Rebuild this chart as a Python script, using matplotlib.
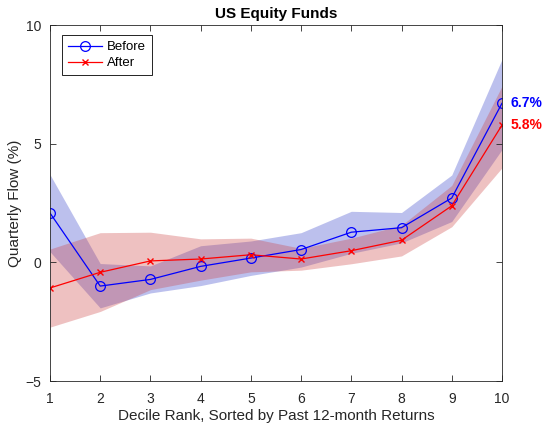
import numpy as np
import matplotlib.pyplot as plt

plt.rcParams['font.family'] = ['Liberation Sans', 'DejaVu Sans']

decile = np.arange(1, 11)

# quarterly flow (%) by decile, with confidence bands
before = [2.08, -1.0, -0.72, -0.17, 0.18, 0.54, 1.27, 1.46, 2.71, 6.7]
before_lo = [0.45, -1.92, -1.29, -0.98, -0.55, -0.2, 0.38, 0.82, 1.72, 4.75]
before_hi = [3.7, -0.05, -0.15, 0.7, 0.9, 1.25, 2.15, 2.1, 3.68, 8.55]

after = [-1.08, -0.42, 0.06, 0.14, 0.32, 0.14, 0.49, 0.93, 2.38, 5.78]
after_lo = [-2.73, -2.07, -1.15, -0.75, -0.4, -0.33, -0.06, 0.27, 1.5, 3.98]
after_hi = [0.56, 1.25, 1.27, 0.99, 1.02, 0.59, 1.02, 1.56, 3.24, 7.42]

before_label = '6.7%'
after_label = '5.8%'

fig = plt.figure(figsize=(5.45, 4.24), dpi=100)
ax = fig.add_axes([0.0917, 0.1014, 0.8293, 0.8396])

ax.fill_between(decile, before_lo, before_hi, color=(0.25, 0.3, 0.8), alpha=0.35, lw=0)
ax.fill_between(decile, after_lo, after_hi, color=(0.8, 0.25, 0.25), alpha=0.32, lw=0)

ax.plot(decile, before, '-o', color='b', lw=0.9, ms=7, mfc='none', mew=0.9, label='Before')
ax.plot(decile, after, '-x', color='r', lw=0.9, ms=5, mew=1.0, label='After')

ax.text(10.18, before[-1], before_label, color='b', fontsize=10, fontweight='bold', va='center')
ax.text(10.18, after[-1], after_label, color='r', fontsize=10, fontweight='bold', va='center')

ax.set_xlim(1, 10)
ax.set_ylim(-5, 10)
ax.set_xticks(decile)
ax.set_yticks([-5, 0, 5, 10])
ax.tick_params(direction='in', top=True, right=True, labelsize=10, colors=(0.15, 0.15, 0.15), length=4, width=0.6)
ax.tick_params(axis='x', pad=8)
ax.tick_params(axis='y', pad=6)
for s in ax.spines.values():
    s.set_color((0.15, 0.15, 0.15))
    s.set_linewidth(0.6)

ax.set_title('US Equity Funds', fontsize=11, fontweight='bold', pad=5)
ax.set_xlabel('Decile Rank, Sorted by Past 12-month Returns', fontsize=11, color=(0.15, 0.15, 0.15), labelpad=2)
ax.set_ylabel('Quarterly Flow (%)', fontsize=11, color=(0.15, 0.15, 0.15), labelpad=3)

leg = ax.legend(loc='upper left', fontsize=9.5, fancybox=False, edgecolor='k', framealpha=1,
                handlelength=2.6, handletextpad=0.4, borderpad=0.45, labelspacing=0.3,
                borderaxespad=0, bbox_to_anchor=(0.026, 0.972))
leg.get_frame().set_linewidth(0.6)

fig.savefig('out.png', dpi=100)
